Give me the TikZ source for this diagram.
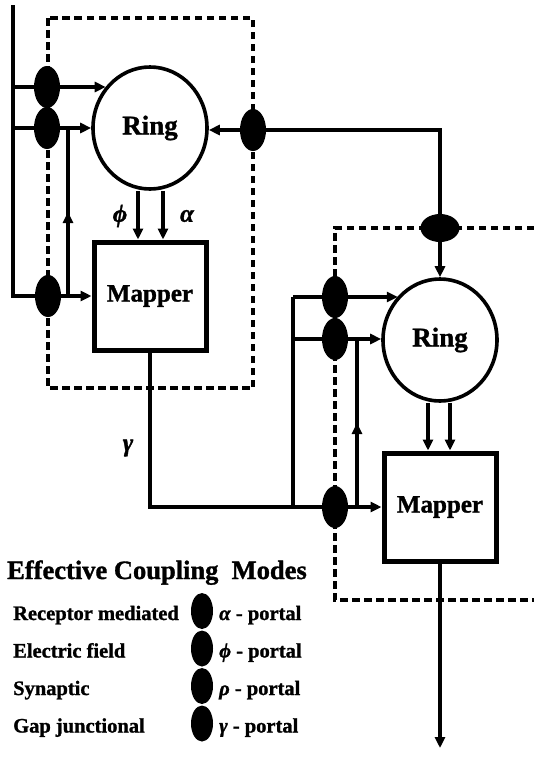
\documentclass[tikz,border=0pt]{standalone}
\usepackage{fontspec}
\setmainfont{Liberation Serif}[BoldFeatures={FakeBold=1.2},BoldItalicFeatures={FakeBold=1.2}]
\usetikzlibrary{arrows.meta,shapes.geometric,backgrounds,decorations.markings}
\begin{document}
\begin{tikzpicture}[x=1pt,y=-1pt,
  conn/.style={line width=3.2pt},
  arr/.style={conn,-{Triangle[length=11pt,width=10pt]}},
  midarrow/.style={conn,decoration={markings,mark=at position 0.5 with {\arrow{Triangle[length=11pt,width=10pt]}}},postaction={decorate}},
  dashbox/.style={line width=3.4pt,dash pattern=on 7.5pt off 4.5pt},
  portal/.style={ellipse,fill=black,minimum width=26pt,minimum height=42pt,inner sep=0pt},
  hportal/.style={ellipse,fill=black,minimum width=39pt,minimum height=28pt,inner sep=0pt},
  lportal/.style={ellipse,fill=black,minimum width=22pt,minimum height=36pt,inner sep=0pt},
  ringnode/.style={ellipse,draw,line width=3.6pt,minimum width=114pt,minimum height=122pt,inner sep=0pt,font=\bfseries\fontsize{27}{27}\selectfont},
  mapnode/.style={draw,line width=5pt,minimum width=112pt,minimum height=108pt,inner sep=0pt,font=\bfseries\fontsize{25}{25}\selectfont},
  glabel/.style={inner sep=0pt,font=\bfseries\itshape\fontsize{25}{25}\selectfont},
  legtitle/.style={inner sep=0pt,anchor=base west,font=\bfseries\fontsize{26.5}{26.5}\selectfont},
  legtext/.style={inner sep=0pt,anchor=base west,font=\bfseries\fontsize{20.5}{20.5}\selectfont},
]
\useasboundingbox (0,0) rectangle (534,769);

% main blocks
\node[ringnode] (ring1) at (150,128) {Ring};
\node[mapnode] (m1) at (150,296) {Mapper};
\node[ringnode] (ring2) at (440,340) {Ring};
\node[mapnode] (m2) at (440,507) {Mapper};

% portals
\node[portal] (pa1) at (47,87) {};
\node[portal] (pb1) at (47,128) {};
\node[portal] (pc1) at (48,296) {};
\node[portal] (pr1) at (253,130) {};
\node[hportal] (pt2) at (440,228) {};
\node[portal] (pa2) at (335,297) {};
\node[portal] (pb2) at (335,339) {};
\node[portal] (pc2) at (335,507) {};

% labels
\node[glabel] (lphi) at (120,216) {ϕ};
\node[glabel] (lalpha) at (187,216) {α};
\node[glabel] (lgamma) at (128,448) {γ};

% free ends and corners
\coordinate (top) at (13,5);
\coordinate (c1) at (13,296);
\coordinate (fb1) at (68,296);
\coordinate (t2) at (293,507);
\coordinate (fb2) at (357,507);
\coordinate (out) at (440,748);

\begin{scope}[on background layer]
  \draw[dashbox] (48,18) rectangle (253,388);
  \draw[dashbox] (534,228) -- (335,228) -- (335,600) -- (534,600);
  \draw[conn] (top) -- (c1) -- (pc1.center);
  \draw[arr] (pc1.center) -- (m1.west);
  \draw[arr] (pa1.center -| top) -- (ring1.137 |- pa1.center);
  \draw[arr] (pb1.center -| top) -- (ring1.west |- pb1.center);
  \draw[midarrow] (fb1) -- (fb1 |- pb1.center);
  \draw[arr] ([xshift=-12pt]ring1.south) -- ([xshift=-12pt]m1.north);
  \draw[arr] ([xshift=13pt]ring1.south) -- ([xshift=13pt]m1.north);
  \draw[conn] (m1.south) |- (pc2.center);
  \draw[arr] (pc2.center) -- (m2.west);
  \draw[conn] (t2) -- (t2 |- pa2.center);
  \draw[arr] (pa2.center -| t2) -- (ring2.134 |- pa2.center);
  \draw[arr] (pb2.center -| t2) -- (ring2.west |- pb2.center);
  \draw[midarrow] (fb2) -- (fb2 |- pb2.center);
  \draw[arr] ([xshift=-12pt]ring2.south) -- ([xshift=-12pt]m2.north);
  \draw[arr] ([xshift=10pt]ring2.south) -- ([xshift=10pt]m2.north);
  \draw[arr] (m2.south) -- (out);
  \draw[arr] (pt2.center) |- (ring1.east |- pr1.center);
  \draw[arr] (pt2.center) -- (ring2.north);
\end{scope}

% legend
\node[legtitle] (title) at (7,579) {Effective Coupling\ \ Modes};
\node[legtext] (r1) at (13,620) {Receptor mediated};
\node[legtext] (r2) at (13,657.5) {Electric field};
\node[legtext] (r3) at (13,695) {Synaptic};
\node[legtext] (r4) at (13,732.5) {Gap junctional};
\node[lportal] (l1) at (202,611) {};
\node[lportal] (l2) at (202,648.5) {};
\node[lportal] (l3) at (202,686) {};
\node[lportal] (l4) at (202,723.5) {};
\node[legtext] (q1) at (219,620) {\textit{α} - portal};
\node[legtext] (q2) at (219,657.5) {\textit{ϕ} - portal};
\node[legtext] (q3) at (219,695) {\textit{ρ} - portal};
\node[legtext] (q4) at (219,732.5) {\textit{γ} - portal};
\end{tikzpicture}
\end{document}
